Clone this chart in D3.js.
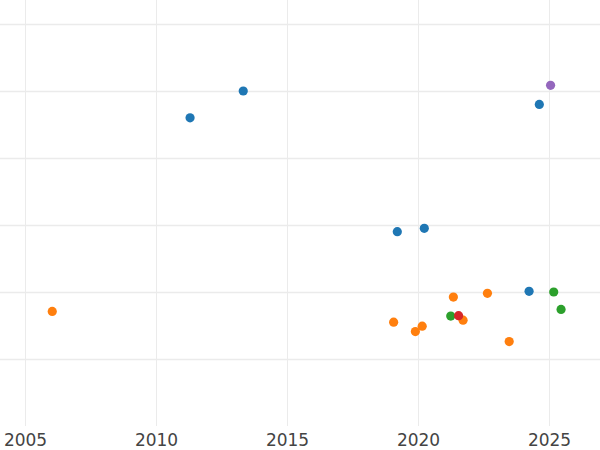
<!DOCTYPE html>
<html>
<head>
<meta charset="utf-8">
<script src="https://cdn.jsdelivr.net/npm/d3@7"></script>
<style>
  html, body { margin: 0; padding: 0; background: #fff; }
  svg { display: block; }
</style>
</head>
<body>
<div id="chart"></div>
<script>
// ---- data ----
const seriesNames = ["Series A", "Series B", "Series C", "Series D", "Series E"];
const seriesA_x = [2011.30, 2013.33, 2024.63, 2019.21, 2020.24, 2024.24];
const seriesA_y = [4.60, 5.00, 4.80, 2.90, 2.95, 2.01];
const seriesB_x = [2006.04, 2021.35, 2022.65, 2021.72, 2019.07, 2020.16, 2019.90, 2023.48];
const seriesB_y = [1.71, 1.925, 1.98, 1.58, 1.55, 1.49, 1.41, 1.26];
const seriesC_x = [2025.18, 2025.46, 2021.25];
const seriesC_y = [2.00, 1.74, 1.64];
const seriesD_x = [2021.55];
const seriesD_y = [1.646];
const seriesE_x = [2025.06];
const seriesE_y = [5.085];
const xTickValues = [2005, 2010, 2015, 2020, 2025];
const yTickValues = [1, 2, 3, 4, 5, 6];

const palette = ["#1f77b4", "#ff7f0e", "#2ca02c", "#d62728", "#9467bd"];

const seriesXs = [seriesA_x, seriesB_x, seriesC_x, seriesD_x, seriesE_x];
const seriesYs = [seriesA_y, seriesB_y, seriesC_y, seriesD_y, seriesE_y];
const series = seriesNames.map((name, i) => ({
  name,
  color: palette[i],
  points: seriesXs[i].map((x, j) => ({ x, y: seriesYs[i][j] }))
}));

// ---- layout ----
const W = 600, H = 450;
const plotTop = 0, plotBottom = 426;

const x = d3.scaleLinear().domain([2005, 2025]).range([25, 549]);
const y = d3.scaleLinear().domain([0, 6]).range([plotBottom, 24]);

const svg = d3.select("#chart").append("svg")
  .attr("width", W).attr("height", H);

// horizontal grid
const yGrid = svg.append("g")
  .attr("transform", "translate(0,0)")
  .call(d3.axisRight(y).tickValues(yTickValues).tickSize(W).tickFormat(""));
yGrid.select(".domain").remove();
yGrid.selectAll(".tick line")
  .attr("stroke", "#ebebeb").attr("stroke-width", 1.5);

// vertical grid + x labels
const xAxis = svg.append("g")
  .attr("transform", `translate(0,${plotBottom})`)
  .call(d3.axisBottom(x).tickValues(xTickValues).tickFormat(d3.format("d"))
    .tickSize(-(plotBottom - plotTop)).tickPadding(8));
xAxis.select(".domain").remove();
xAxis.selectAll(".tick line")
  .attr("stroke", "#ebebeb").attr("stroke-width", 1);
xAxis.selectAll(".tick text")
  .attr("fill", "#444")
  .attr("font-family", "DejaVu Sans, sans-serif")
  .attr("font-size", 17)
  .attr("dy", "0.71em");

// points
series.forEach(s => {
  svg.append("g")
    .selectAll("circle")
    .data(s.points)
    .join("circle")
    .attr("cx", d => x(d.x))
    .attr("cy", d => y(d.y))
    .attr("r", 4.6)
    .attr("fill", s.color);
});
</script>
</body>
</html>
